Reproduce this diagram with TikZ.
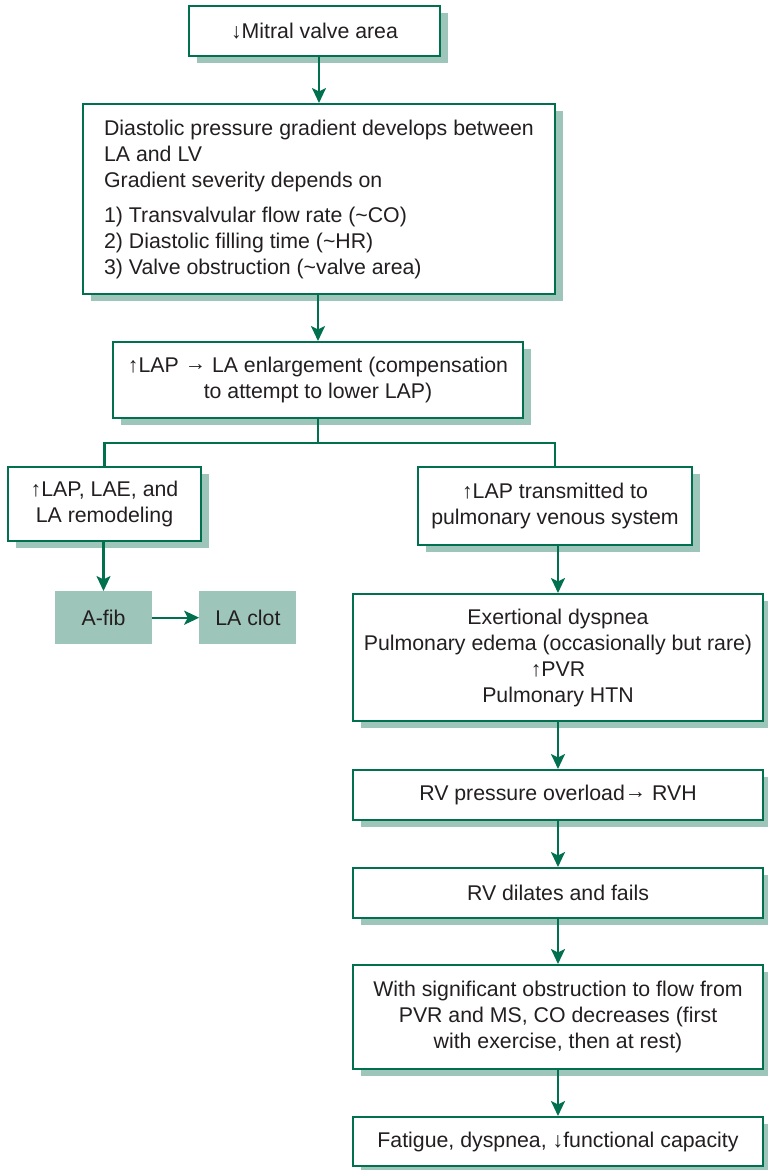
\documentclass[tikz,border=0pt]{standalone}
\usepackage{fontspec}
\setmainfont{Liberation Sans}
\usetikzlibrary{arrows.meta,positioning,shadows}
\definecolor{msgreen}{HTML}{00704F}
\definecolor{msshade}{HTML}{9EC5B9}
\definecolor{mstext}{HTML}{231F20}
\newcommand{\msfont}{\fontsize{21.3}{26}\selectfont}
\newcommand{\msto}{\raisebox{2pt}{→}}
\tikzstyle{box} = [rectangle, draw=msgreen, line width=2.4pt, fill=white, text=mstext,
    align=center, font=\msfont, inner sep=4pt,
    drop shadow={shadow xshift=8pt, shadow yshift=-7pt, fill=msshade, opacity=1}]
\tikzstyle{colbox} = [box, minimum width=409.6pt]
\tikzstyle{shade} = [rectangle, fill=msshade, text=mstext, font=\msfont,
    minimum width=97pt, minimum height=53pt]
\tikzstyle{arrow} = [-{Stealth[length=15pt,width=14pt,inset=3.5pt]}, line width=2.4pt, msgreen]
\tikzstyle{link} = [line width=2.4pt, msgreen]

\begin{document}
\begin{tikzpicture}[x=1pt,y=-1pt]
\useasboundingbox (0,0) rectangle (768,1170);
\node[box, minimum width=250.6pt, minimum height=49.6pt] (mitral) at (314.5,31) {↓Mitral valve area};
\node[box, below=46pt of mitral, xshift=4.5pt, align=left, minimum width=471.6pt,
    minimum height=189.6pt] (gradient) {Diastolic pressure gradient develops between\\
    LA and LV\\
    Gradient severity depends on\\[9pt]
    1) Transvalvular flow rate (\textasciitilde CO)\\
    2) Diastolic filling time (\textasciitilde HR)\\
    3) Valve obstruction (\textasciitilde valve area)};
\node[box, below=46pt of gradient, xshift=-1pt, minimum width=409.6pt, minimum height=75.6pt] (lap)
    {↑LAP \msto{} LA enlargement (compensation\\to attempt to lower LAP)};

\node[box, below=47pt of lap, xshift=-213.5pt, minimum width=192.6pt, minimum height=73.6pt] (laleft)
    {↑LAP, LAE, and\\LA remodeling};
\node[box, below=47pt of lap, xshift=237pt, minimum width=273.6pt, minimum height=77.6pt] (laright)
    {↑LAP transmitted to\\pulmonary venous system};

\node[shade, below=49pt of laleft, xshift=-1pt] (afib) {A-fib};
\node[shade, right=47pt of afib] (clot) {LA clot};

\node[colbox, below=47pt of laright, xshift=3pt, minimum height=126.6pt] (pulm)
    {Exertional dyspnea\\Pulmonary edema (occasionally but rare)\\↑PVR\\Pulmonary HTN};
\node[colbox, below=47pt of pulm, minimum height=49.6pt] (rvh) {RV pressure overload\msto{} RVH};
\node[colbox, below=46pt of rvh, minimum height=49.6pt] (rvfail) {RV dilates and fails};
\node[colbox, below=45pt of rvfail, minimum height=103.6pt] (coflow)
    {With significant obstruction to flow from\\PVR and MS, CO decreases (first\\with exercise, then at rest)};
\node[colbox, below=46pt of coflow, minimum height=48.6pt] (fatigue) {Fatigue, dyspnea, ↓functional capacity};

\draw[arrow] (gradient.north |- mitral.south) -- (gradient.north);
\draw[arrow] (lap.north |- gradient.south) -- (lap.north);
\draw[link] (lap.south) -- ++(0,24) coordinate (split);
\draw[link] (laleft.north) |- (split) -| (laright.north);
\draw[arrow] (afib.north |- laleft.south) -- (afib.north);
\draw[arrow] (afib) -- (clot);
\draw[arrow] (pulm.north |- laright.south) -- (pulm.north);
\draw[arrow] (pulm) -- (rvh);
\draw[arrow] (rvh) -- (rvfail);
\draw[arrow] (rvfail) -- (coflow);
\draw[arrow] (coflow) -- (fatigue);
\end{tikzpicture}
\end{document}
